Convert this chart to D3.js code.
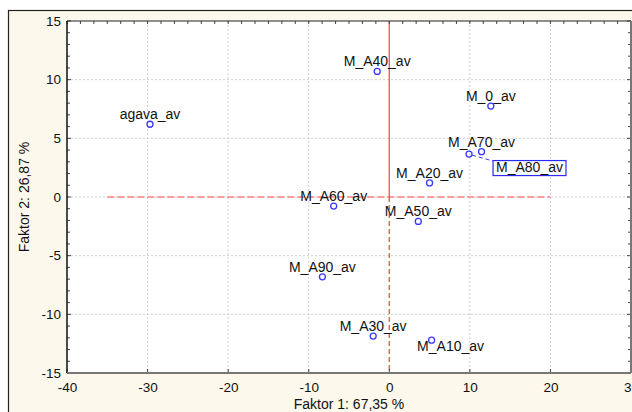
<!DOCTYPE html>
<html><head><meta charset="utf-8">
<script src="https://cdn.jsdelivr.net/npm/d3@7"></script>
<style>
html,body{margin:0;padding:0;background:#fff;}
text{font-family:"Liberation Sans",Arial,sans-serif;fill:#111;}
</style></head>
<body><svg id="c" width="632" height="412"></svg>
<script>
// ---- data ----
const names   = ["agava_av","M_A40_av","M_0_av","M_A70_av","M_A80_av","M_A20_av","M_A60_av","M_A50_av","M_A90_av","M_A30_av","M_A10_av"];
const factor1 = [-29.7, -1.5, 12.6, 11.45, 9.9, 5.0, -6.9, 3.6, -8.3, -2.0, 5.25];
const factor2 = [6.2, 10.7, 7.75, 3.86, 3.66, 1.2, -0.77, -2.08, -6.8, -11.85, -12.2];
const xTicks = [-40,-30,-20,-10,0,10,20,30];
const yTicks = [-15,-10,-5,0,5,10,15];
const xTitle = "Faktor 1: 67,35 %";
const yTitle = "Faktor 2: 26,87 %";

// ---- layout ----
const svg = d3.select("#c");
const L=67, R=631, T=21, B=373;
const x = d3.scaleLinear().domain([-40,30]).range([L,R]);
const y = d3.scaleLinear().domain([-15,15]).range([B,T]);
const fmt = d=>String(d);

// outer frame
svg.append("rect").attr("x",8.5).attr("y",10.5).attr("width",700).attr("height",500)
  .attr("fill","#fdf8ec").attr("stroke","#222").attr("stroke-width",1.2);
// plot area
svg.append("rect").attr("x",L).attr("y",T).attr("width",R-L).attr("height",B-T).attr("fill","#fff");

const g = svg.append("g");
// grid
g.selectAll(".gx").data(xTicks.filter(d=>d>-40&&d<30&&d!==0)).join("line")
  .attr("x1",d=>x(d)).attr("x2",d=>x(d)).attr("y1",T).attr("y2",B)
  .attr("stroke","#cfcfcf").attr("stroke-width",1).attr("stroke-dasharray","2,2");
g.selectAll(".gy").data(yTicks.filter(d=>d>-15&&d<15)).join("line")
  .attr("x1",L).attr("x2",R).attr("y1",d=>y(d)).attr("y2",d=>y(d))
  .attr("stroke","#cfcfcf").attr("stroke-width",1).attr("stroke-dasharray","2,2");

// red reference lines
g.append("line").attr("x1",x(-35)).attr("x2",x(20)).attr("y1",y(0)).attr("y2",y(0))
  .attr("stroke","#ff8080").attr("stroke-width",1.6).attr("stroke-dasharray","7,3");
g.append("line").attr("x1",x(0)).attr("x2",x(0)).attr("y1",y(15)).attr("y2",y(0))
  .attr("stroke","#ff5a5a").attr("stroke-width",1.4);
g.append("line").attr("x1",x(0)).attr("x2",x(0)).attr("y1",y(0)).attr("y2",y(-15))
  .attr("stroke","#ff5a5a").attr("stroke-width",1.4).attr("stroke-dasharray","5,3");

// axes
const xAxisB = d3.axisBottom(x).tickValues(xTicks).tickSize(0).tickPadding(9).tickFormat(fmt);
const gxb = svg.append("g").attr("transform",`translate(0,${B})`).call(xAxisB);
gxb.select(".domain").remove();
gxb.selectAll("text").attr("font-size",13.5).attr("fill","#111").style("font-family","Liberation Sans, Arial");
const yAxisL = d3.axisLeft(y).tickValues(yTicks).tickSize(0).tickPadding(6).tickFormat(fmt);
const gyl = svg.append("g").attr("transform",`translate(${L},0)`).call(yAxisL);
gyl.select(".domain").remove();
gyl.selectAll("text").attr("font-size",13.5).attr("fill","#111").style("font-family","Liberation Sans, Arial");

// tick marks (inside)
const yMinor = d3.range(-15,15.01,1);
const xMinor = d3.range(0,43).map(i=>-40+i*10/6);
svg.selectAll(".tl").data(yMinor).join("line").attr("x1",L).attr("x2",d=>L+(d%5===0?4:3))
  .attr("y1",d=>y(d)).attr("y2",d=>y(d)).attr("stroke","#444");
svg.selectAll(".tr").data(yMinor).join("line").attr("x1",R).attr("x2",d=>R-(d%5===0?4:3))
  .attr("y1",d=>y(d)).attr("y2",d=>y(d)).attr("stroke","#444");
svg.selectAll(".tt").data(xMinor).join("line").attr("x1",d=>x(d)).attr("x2",d=>x(d))
  .attr("y1",T).attr("y2",T+3).attr("stroke","#444");
svg.selectAll(".tb").data(xTicks).join("line").attr("x1",d=>x(d)).attr("x2",d=>x(d))
  .attr("y1",B).attr("y2",B-4).attr("stroke","#444");

// plot border
svg.append("line").attr("x1",L).attr("x2",R).attr("y1",T).attr("y2",T).attr("stroke","#222").attr("stroke-width",1.2);
svg.append("line").attr("x1",L).attr("x2",L).attr("y1",T).attr("y2",B).attr("stroke","#111").attr("stroke-width",1.5);
svg.append("line").attr("x1",L).attr("x2",R).attr("y1",B).attr("y2",B).attr("stroke","#777").attr("stroke-width",2);
svg.append("line").attr("x1",R).attr("x2",R).attr("y1",T).attr("y2",B).attr("stroke","#777").attr("stroke-width",2);

// points & labels
const pts = names.map((n,i)=>({n, a:factor1[i], b:factor2[i]}));
const special = {"M_A10_av":{dx:19,dy:11}};
const boxed = {"M_A80_av":{dx:24,dy:7}};
const fs = 14;
const lay = svg.append("g");
pts.forEach(p=>{
  const px=x(p.a), py=y(p.b);
  if(boxed[p.n]){
    const o=boxed[p.n];
    const bg = lay.append("g");
    const rect = bg.append("rect");
    const t=bg.append("text").attr("x",px+o.dx+3).attr("y",py+o.dy+11).attr("font-size",fs).text(p.n);
    const bb=t.node().getBBox();
    rect.attr("x",bb.x-3).attr("y",py+o.dy-0.5).attr("width",bb.width+6).attr("height",15)
      .attr("fill","#fff").attr("stroke","#2a2aff").attr("stroke-width",1.2);
    lay.append("line").attr("x1",px+3).attr("y1",py+1).attr("x2",px+o.dx).attr("y2",py+o.dy)
      .attr("stroke","#3a3aff").attr("stroke-width",1).attr("stroke-dasharray","4,3");
  } else {
    const o=special[p.n]||{dx:0,dy:-5};
    lay.append("text").attr("x",px+o.dx).attr("y",py+o.dy).attr("text-anchor","middle")
      .attr("font-size",fs).text(p.n);
  }
  lay.append("circle").attr("cx",px).attr("cy",py).attr("r",3)
    .attr("fill","none").attr("stroke","#3a3aff").attr("stroke-width",1.3);
});

// axis titles
svg.append("text").attr("x",(L+R)/2).attr("y",409).attr("text-anchor","middle").attr("font-size",14).text(xTitle);
svg.append("text").attr("transform",`translate(29,${(T+B)/2}) rotate(-90)`).attr("text-anchor","middle")
  .attr("font-size",14).text(yTitle);
</script></body></html>
